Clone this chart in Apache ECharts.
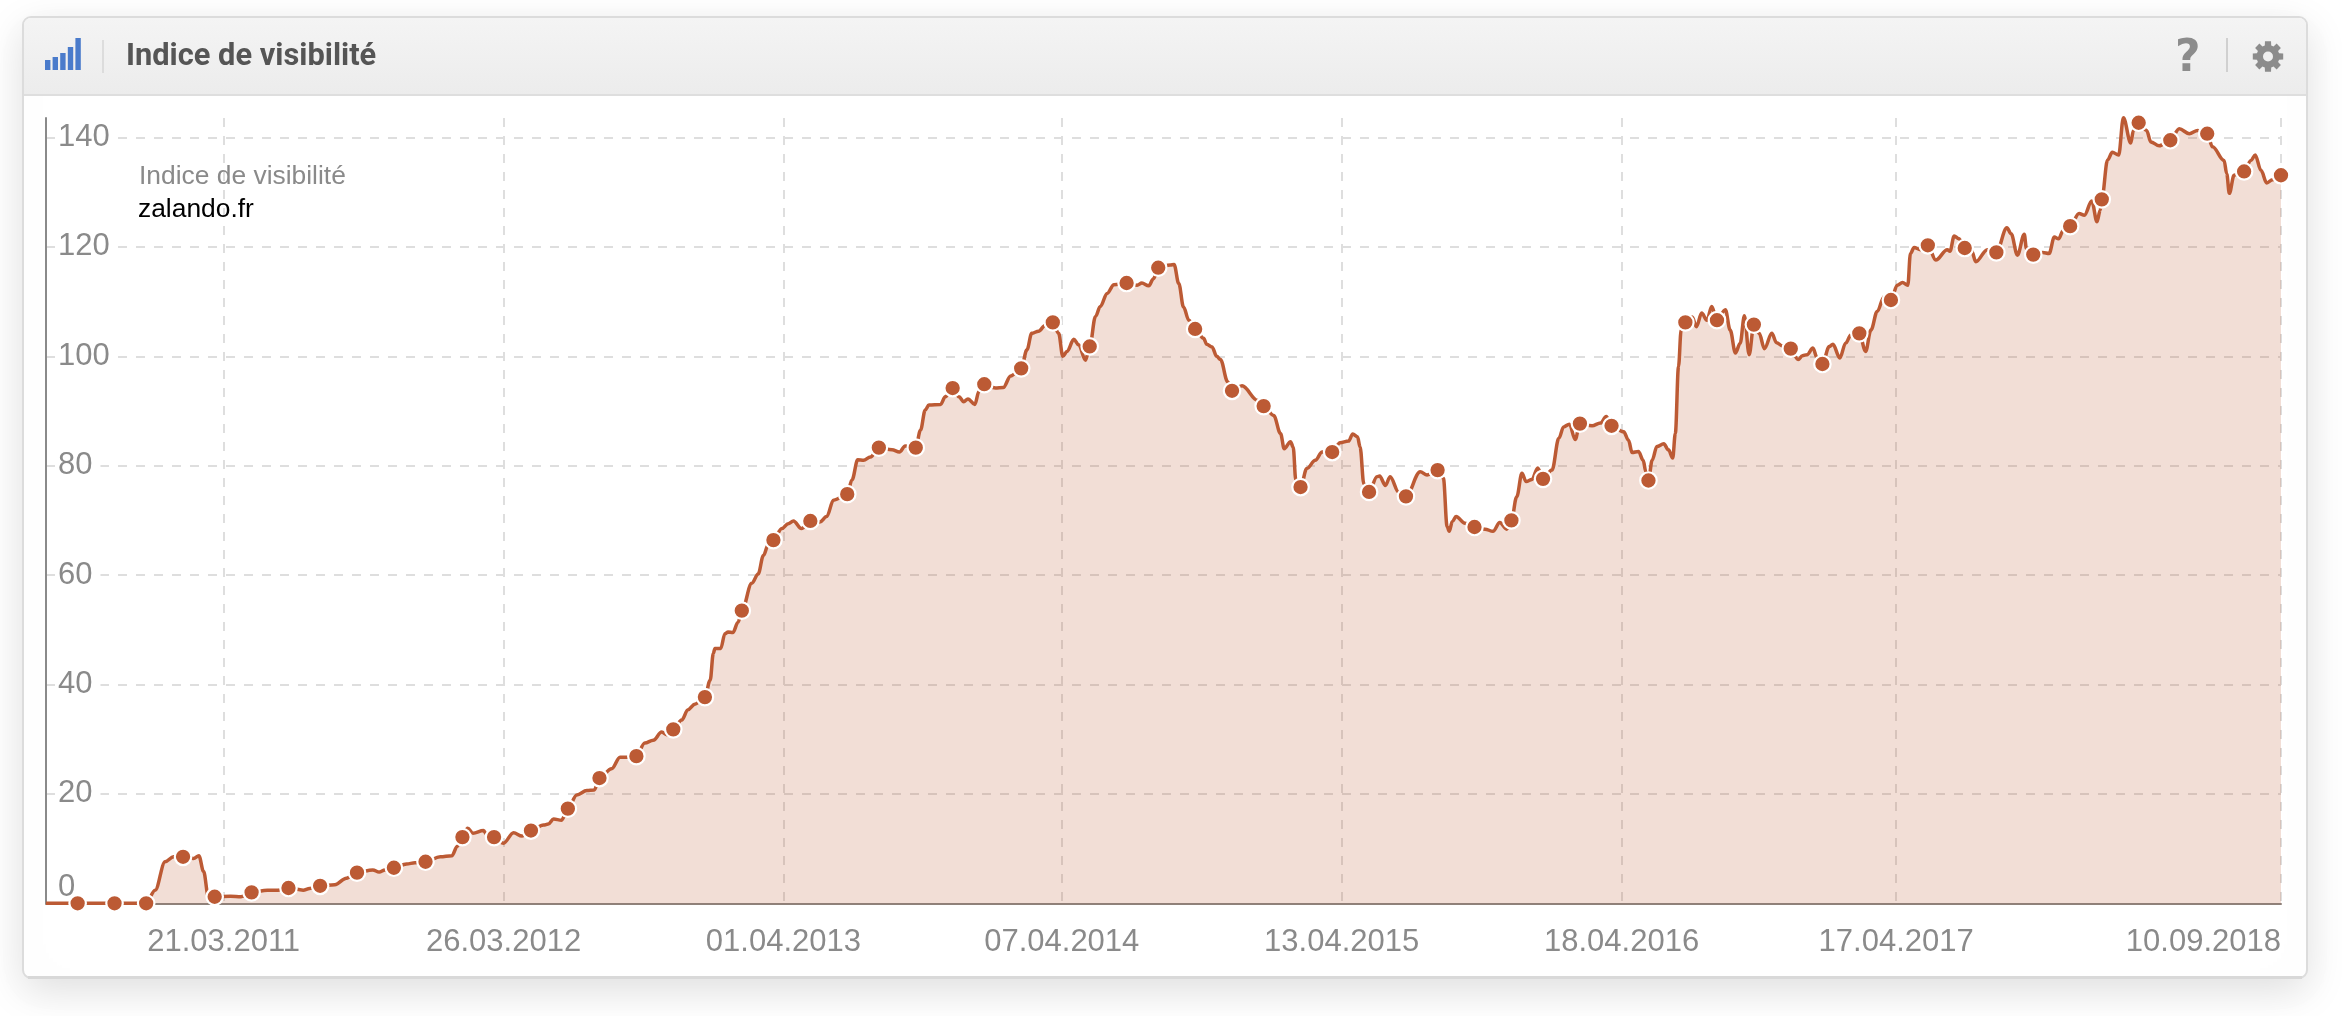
<!DOCTYPE html>
<html>
<head>
<meta charset="utf-8">
<style>html,body{margin:0;padding:0;background:#fff}#chart{width:2342px;height:1016px}</style>
<script src="https://cdn.jsdelivr.net/npm/echarts@6/dist/echarts.min.js"></script>
</head>
<body>
<div id="chart"></div>
<script>
const chartTitle = 'Indice de visibilité';
const seriesLabel = 'Indice de visibilité';
const domainLabel = 'zalando.fr';
const tickLabels = ['21.03.2011','26.03.2012','01.04.2013','07.04.2014','13.04.2015','18.04.2016','17.04.2017','10.09.2018'];
const tickWeeks = [33.7,86.8,139.9,192.7,245.8,298.9,351,424];
const yTicks = [0,20,40,60,80,100,120,140];
const weeks = [
0,6,13,19,20.7,22.6,24.2,26,28,29,
29.9,30.8,32,35,37,39,42,44,46,48.8,
50,52,54.8,57,59,62,63.2,64.3,66,68.4,
70,72,74.8,77,78,79,80,81,83,83.6,
85,86.8,88.7,90.3,92,94.4,95.3,96.3,97.8,99,
100.7,102.6,104,105,107.3,108.9,110.1,112,113.6,115.2,
116.8,117.8,119,120.6,121.8,123.1,125,126,126.6,126.9,
128,128.8,129.4,130.3,131.3,132,133.9,135.1,136.1,137,
138,139.6,140.8,141.8,143.3,145,146.8,148.1,149.4,152,
152.9,154,155.1,156.4,158,160.5,161.9,163,165,165.9,
166.8,167.5,169.7,170.6,172,173.2,174.1,174.9,176.2,177,
178,180.1,181.6,183,185,186.1,187,188.3,189.6,191,
192.1,192.9,193.7,195,195.9,197.2,198,199.1,200,201.3,
202.6,205,207,207.9,209.2,210.1,211,213.3,214,214.9,
215.8,216.8,218,219.6,220.2,221.2,222.1,222.8,224.2,225,
226.9,229.9,231,232.9,234.2,234.9,236.1,236.6,237.1,238,
239.2,240.8,242.1,244,245.5,247.1,247.9,248.8,249.3,250,
251,252.5,253,254.1,255,256.6,258,260.7,262,264,
265.1,265.8,266.2,266.8,267.5,269.2,271,273,274.5,275.8,
277.1,278,279,280,280.8,281.9,283,284,285.7,287,
287.9,289,290.1,291,293.3,294.9,296,297,299.3,300.2,
300.9,302.1,303,303.5,304,304.7,305.6,306.9,307.8,308.6,
309.1,309.7,310.2,311,312.3,313.1,314.1,315.1,316,317,
318.6,319.5,320.5,321.4,322.2,323.1,324,325,326,327.4,
328.3,329.4,331,332.4,333.2,334.1,335.2,336,337,338.3,
339,340.3,341.4,342.4,344,345.2,346.2,347.4,348.7,350,
351.2,352.2,353.2,353.7,354.4,355.6,357,358.5,360.7,361.2,
362,362.9,364,365.3,366.1,368.3,370,372,372.8,374,
375.3,375.7,377,378.8,380,381,381.8,382.7,384,385.7,
386.7,388.1,389.1,389.7,390,391.1,392,393.2,394.1,395.5,
396,397,398.5,399.3,400.9,403,404.7,406.6,408.2,410,
411,413.2,413.7,414.2,415.1,417,418.3,419.1,420.2,421.3,
422.4,424
];
const visibility = [
0,0,0,0,2.4,7.6,8.5,8.5,8.2,8.7,
5.8,1.2,1.2,1.3,1.2,2,2.4,2.4,2.8,2.4,
2.7,3.2,3.4,4.6,5.6,6.1,5.7,6.1,6.5,7.2,
7.4,7.6,8.5,8.7,10.4,12.1,13.7,12.8,13.3,12.6,
12.1,11,12.9,12.3,13.3,14.3,14.5,15.4,15.2,17.3,
19.8,20.6,20.7,22.9,24.6,26.7,26.7,26.9,29.3,29.8,
31.3,30.8,31.8,33.5,35.4,36.4,37.7,40.8,45.7,46.6,
46.6,49.3,49.6,49.5,51.4,53.5,58.5,60.2,63.6,65.5,
66.4,68.5,69.4,69.9,68.5,69.9,69.7,70.7,73.7,74.8,
77.4,81.1,81,81.6,83.3,82.9,82.5,83.6,83.3,86.5,
90.2,91.1,91.2,92.6,94.2,92.6,91.7,92.2,91.2,93.6,
94.9,94.2,94.3,96.4,97.8,101.2,104.2,104.6,105.7,106.2,
104.2,100,100.9,103.1,102.1,99.3,101.8,107.3,109.1,111.5,
113.1,113.4,113,113.4,112.9,114.2,116.2,116.7,116.8,113.3,
109,106.6,105,103.3,102.2,101.7,100,99.4,95.3,93.7,
94.6,91.9,90.9,89.2,85.9,83.1,84.4,83.4,77.4,76.1,
79.5,81,82.5,82.5,84.2,84.5,85.8,85.3,83.4,76.7,
75.2,78,78.1,76.4,78,75.2,74.4,78.9,78.3,79.2,
77.7,68.9,68,69.8,70.7,69.5,68.8,68.4,68,69.6,
68.4,70,74.3,78.6,77.1,77.5,79.6,77.6,79.2,85,
87.1,87.6,84.8,87.7,87.3,87.8,89,87.3,86.2,84.7,
82.4,82.6,81,78.9,77.3,81,83.5,84,82.9,81.4,
85.9,98.1,104.8,106.2,107.2,105.4,107.9,106.6,109.1,106.6,
108.5,104.8,100.6,102.4,107.4,100.3,105.8,104.2,101.4,104.2,
102.5,101.9,101.4,99.4,100.1,100.3,101.5,99.7,98.6,101.8,
102.2,99.7,102.4,103.9,104.2,100.9,104.8,108.2,110.9,110.3,
113,113.5,113,118.8,119.9,119.5,120.3,117.6,119.5,119.2,
122,121.5,119.8,119.3,117.3,119.5,119,123.5,122.4,118.5,
122.3,119.7,118.6,119,118.8,121.8,121.5,123,123.8,126.1,
125.8,128.4,124.6,126.7,128.7,135.9,137.3,136.8,143.6,139,
141.3,142.7,141.3,139.2,138.5,139.5,141.6,140.7,141.3,140.7,
138.3,135.8,133.4,129.8,133.1,133.8,135.8,136.8,134,131.7,
132.3,133.1
];
const markerWeeks = [6,13,19,26,32,39,46,52,59,66,72,79,85,92,99,105,112,119,125,132,138,145,152,158,165,172,178,185,191,198,205,211,218,225,231,238,244,251,258,264,271,278,284,291,297,304,311,317,324,331,337,344,350,357,364,370,377,384,390,397,403,410,417,424];

const LINE = '#bc5a34', GREY = '#8a8a8a', GRID = '#dedede';
const gearPoints = (function () {
  const pts = [], n = 8, ro = 15.5, ri = 11.5, cx = 2268, cy = 56.5;
  for (let i = 0; i < n; i++) {
    const a = i * 2 * Math.PI / n - Math.PI / 2, s = Math.PI / n;
    [[a - s * 0.5, ro], [a + s * 0.5, ro], [a + s * 0.72, ri], [a + s * 1.28, ri]].forEach(function (p) {
      pts.push([cx + p[1] * Math.cos(p[0]), cy + p[1] * Math.sin(p[0])]);
    });
  }
  return pts;
})();

const iconBars = [[45,60],[52.6,57],[60.2,53],[67.8,47],[75.4,38]];
const chart = echarts.init(document.getElementById('chart'), null, {renderer: 'canvas', width: 2342, height: 1016});
chart.setOption({
  animation: false,
  backgroundColor: '#fff',
  textStyle: {fontFamily: '"Liberation Sans", Arial, sans-serif'},
  title: {
    text: chartTitle, left: 126, top: 42, padding: 0,
    textStyle: {fontFamily: 'Roboto, sans-serif', fontWeight: 700, fontSize: 30.8, color: '#555', textShadowColor: '#fff', textShadowOffsetY: 1, textShadowBlur: 0}
  },
  grid: {left: 46, right: 61, top: 118, bottom: 112.7, containLabel: false},
  xAxis: {
    type: 'value', min: 0, max: 424,
    axisLine: {show: true, lineStyle: {color: '#8f827b', width: 2}},
    axisTick: {show: false, customValues: tickWeeks},
    splitLine: {show: true, lineStyle: {color: GRID, width: 2, type: [9, 9]}},
    axisLabel: {
      customValues: tickWeeks, margin: 24, fontSize: 31, color: GREY, alignMaxLabel: 'right',
      formatter: function (v) { return tickLabels[tickWeeks.indexOf(v)]; }
    }
  },
  yAxis: {
    type: 'value', min: 0, max: 143.57,
    axisLine: {show: true, lineStyle: {color: GREY, width: 2}},
    axisTick: {show: false, customValues: yTicks},
    splitLine: {show: true, lineStyle: {color: GRID, width: 2, type: [9, 9]}},
    axisLabel: {
      customValues: yTicks, inside: true, margin: 11, fontSize: 31, color: GREY,
      backgroundColor: '#fff', padding: [2, 8, 0, 1], verticalAlignMinLabel: 'bottom'
    }
  },
  series: [
    {
      type: 'line', name: seriesLabel, smooth: 0.35, smoothMonotone: 'x', showSymbol: false, clip: false,
      data: weeks.map(function (w, i) { return [w, visibility[i]]; }),
      lineStyle: {color: LINE, width: 3.5},
      areaStyle: {color: 'rgb(188,90,52)', opacity: 0.2},
      z: 3
    },
    {
      type: 'scatter', symbol: 'circle', symbolSize: 16.5, clip: false,
      data: markerWeeks.map(function (w) { return [w, visibility[weeks.indexOf(w)]]; }),
      itemStyle: {color: LINE, borderColor: '#fff', borderWidth: 2.2, opacity: 1},
      z: 4
    }
  ],
  graphic: {
    elements: [
      {type: 'rect', z: -20, silent: true, shape: {x: 23, y: 17, width: 2284, height: 961, r: 8},
        style: {fill: '#fff', stroke: '#dcdcdc', lineWidth: 2, shadowBlur: 40, shadowColor: 'rgba(0,0,0,0.13)', shadowOffsetY: 12}},
      {type: 'rect', z: -19, silent: true, shape: {x: 24, y: 18, width: 2282, height: 77, r: [7, 7, 0, 0]},
        style: {fill: new echarts.graphic.LinearGradient(0, 0, 0, 1, [{offset: 0, color: '#f4f4f4'}, {offset: 1, color: '#ececec'}])}},
      {type: 'line', z: -18, silent: true, shape: {x1: 24, y1: 95, x2: 2306, y2: 95}, style: {stroke: '#dedede', lineWidth: 2}},
      {type: 'line', z: -18, silent: true, shape: {x1: 28, y1: 977.5, x2: 2302, y2: 977.5}, style: {stroke: '#d8d8d8', lineWidth: 3}},
      {type: 'line', z: 10, silent: true, shape: {x1: 103, y1: 40, x2: 103, y2: 73}, style: {stroke: '#d6d6d6', lineWidth: 1.5}},
      {type: 'line', z: 10, silent: true, shape: {x1: 2227, y1: 38, x2: 2227, y2: 72}, style: {stroke: '#d0d0d0', lineWidth: 2}}
    ].concat(iconBars.map(function (b) {
      return {type: 'rect', z: 10, silent: true, shape: {x: b[0], y: b[1], width: 5.4, height: 70 - b[1]}, style: {fill: '#4a7bcb'}};
    })).concat([
      {type: 'text', z: 10, silent: true, x: 2175, y: 38, style: {text: '?', fontFamily: '"DejaVu Sans"', fontWeight: 'bold', fontSize: 44, fill: '#8c8c8c'}},
      {type: 'polygon', z: 10, silent: true, shape: {points: gearPoints}, style: {fill: '#8c8c8c'}},
      {type: 'circle', z: 11, silent: true, shape: {cx: 2268, cy: 56.5, r: 5}, style: {fill: '#efefef'}},
      {type: 'text', z: 10, silent: true, x: 139, y: 163.5, style: {text: seriesLabel, fontFamily: '"Liberation Sans"', fontSize: 26.4, fill: '#8a8a8a'}},
      {type: 'text', z: 10, silent: true, x: 138, y: 196.5, style: {text: domainLabel, fontFamily: '"Liberation Sans"', fontSize: 26.4, fill: '#000'}}
    ])
  }
});
</script>
</body>
</html>
